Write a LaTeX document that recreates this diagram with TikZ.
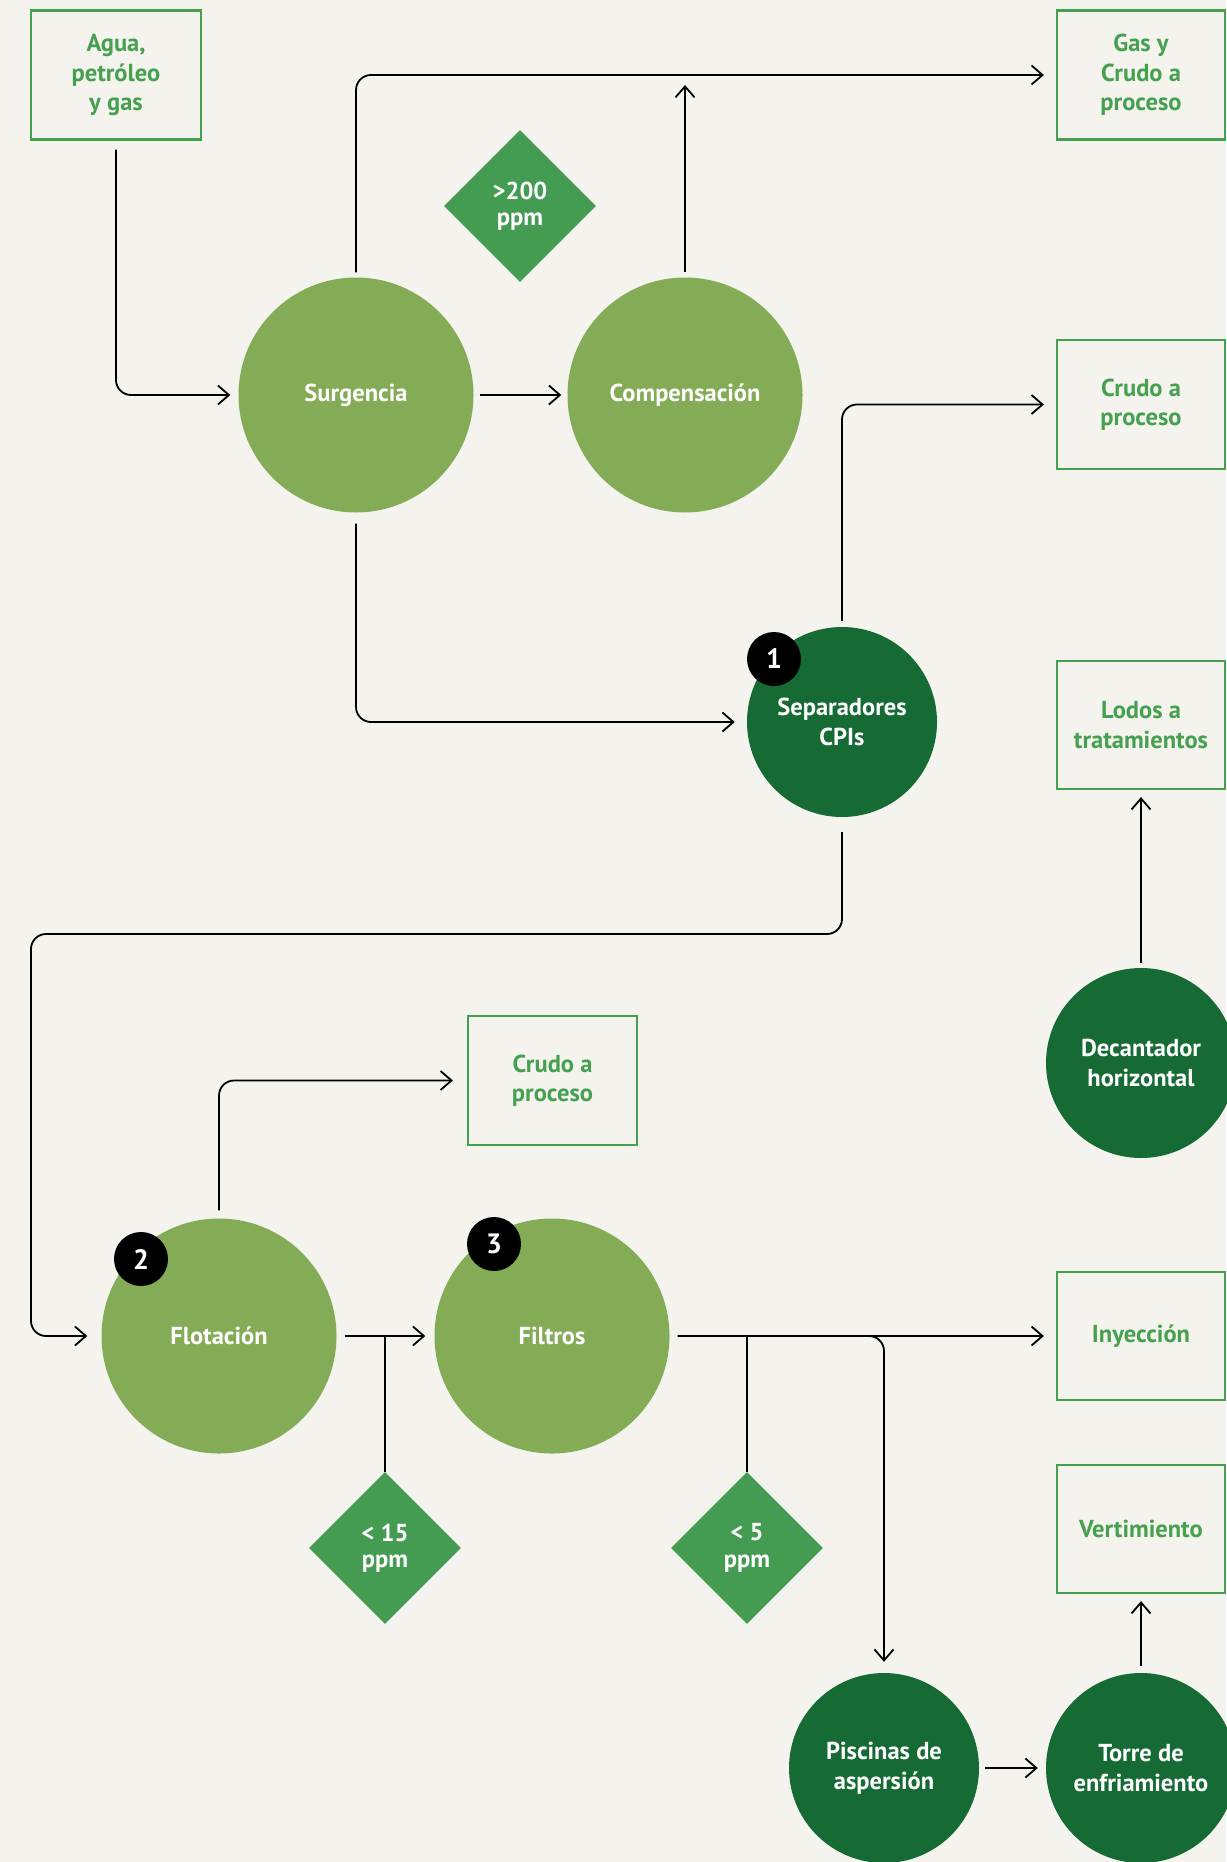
\documentclass[tikz,border=0pt]{standalone}
\usepackage{fontspec}
\setmainfont{PT Sans}
\usetikzlibrary{arrows.meta,shapes.geometric,calc}
\definecolor{bg}{HTML}{F4F3EE}
\definecolor{lightg}{HTML}{84AC57}
\definecolor{darkg}{HTML}{166B35}
\definecolor{diag}{HTML}{439C52}
\definecolor{boxg}{HTML}{45A04F}
\begin{document}
\begin{tikzpicture}[x=1pt,y=-1pt,
  every node/.style={font=\fontsize{24.5}{29.5}\selectfont\bfseries, align=center},
  outbox/.style={rectangle, draw=boxg, line width=2.2pt, text=boxg, minimum width=168pt, minimum height=128pt, inner sep=0pt},
  bigstep/.style={circle, fill=lightg, text=white, minimum size=235pt, inner sep=0pt},
  darkstep/.style={circle, fill=darkg, text=white, minimum size=190pt, inner sep=0pt},
  cond/.style={diamond, fill=diag, text=white, minimum width=152pt, minimum height=152pt, inner sep=0pt, aspect=1, font=\fontsize{24.5}{26.5}\selectfont\bfseries},
  badge/.style={circle, fill=black, text=white, minimum size=54pt, inner sep=0pt, font=\fontsize{28}{30}\selectfont\bfseries},
  flow/.style={draw=black, line width=1.8pt, rounded corners=15pt},
  arr/.style={flow, -{Straight Barb[length=11pt,width=19pt,line width=1.8pt]}},
]
\fill[bg] (0,0) rectangle (1226,1862);
\useasboundingbox (0,0) rectangle (1226,1862);

% boxes
\node[outbox, minimum width=170pt, minimum height=129pt] (agua) at (116,75) {Agua,\\petróleo\\y gas};
\node[outbox, minimum height=129pt] (gas) at (1141,75) {Gas y\\Crudo a\\proceso};
\node[outbox, minimum height=129pt] (crudo1) at (1141,404.5) {Crudo a\\proceso};
\node[outbox] (lodos) at (1141,725) {Lodos a\\tratamientos};
\node[outbox, minimum width=169pt, minimum height=129pt] (crudo2) at (552.5,1080.5) {Crudo a\\proceso};
\node[outbox] (iny) at (1141,1336) {Inyección};
\node[outbox] (vert) at (1141,1529) {Vertimiento};

% process circles
\node[bigstep] (surg) at (356,395) {Surgencia};
\node[bigstep] (comp) at (685,395) {Compensación};
\node[darkstep] (sep) at (842,722) {Separadores\\CPIs};
\node[darkstep] (dec) at (1141,1063) {Decantador\\horizontal};
\node[bigstep] (flot) at (219,1336) {Flotación};
\node[bigstep] (filt) at (552,1336) {Filtros};
\node[darkstep] (pisc) at (884,1768) {Piscinas de\\aspersión};
\node[darkstep] (torre) at (1141,1768) {Torre de\\enfriamiento};

% conditions
\node[cond] (d200) at (520,206) {>200\\ppm};
\node[cond] (d15) at (385,1548) {< 15\\ppm};
\node[cond] (d5) at (747,1548) {< 5\\ppm};

% badges
\node[badge] (b1) at (774,659) {1};
\node[badge] (b2) at (141,1259) {2};
\node[badge] (b3) at (494,1244) {3};

% connectors
\draw[arr, shorten <=9pt, shorten >=8pt] (agua.south) |- (surg.west);
\draw[arr, shorten <=5pt, shorten >=12pt] (surg.north) |- (gas.west);
\draw[arr, shorten <=6pt, shorten >=6pt] (surg.east) -- (comp.west);
\draw[arr, shorten <=5pt, shorten >=10pt] (comp.north) -- (comp.north |- gas.west);
\draw[arr, shorten <=11pt, shorten >=12pt] (surg.south) |- (sep.west);
\draw[arr, shorten <=6pt, shorten >=12pt] (sep.north) |- (crudo1.west);
\coordinate (loop) at (31,934);
\draw[arr, shorten <=15pt, shorten >=14pt] (sep.south) |- (loop) |- (flot.west);
\draw[arr, shorten <=8pt, shorten >=14pt] (flot.north) |- (crudo2.west);
\draw[arr, shorten <=8pt, shorten >=9pt] (flot.east) -- (filt.west);
\draw[flow] (d15.north) -- (d15.north |- flot.east);
\draw[arr, shorten <=8pt, shorten >=12pt] (filt.east) -- (iny.west);
\draw[flow] (d5.north) -- (d5.north |- filt.east);
\draw[arr, shorten <=8pt, shorten >=11pt] (filt.east) -| (pisc.north);
\draw[arr, shorten <=6pt, shorten >=8pt] (pisc.east) -- (torre.west);
\draw[arr, shorten <=7pt, shorten >=7pt] (torre.north) -- (vert.south);
\draw[arr, shorten <=5pt, shorten >=7pt] (dec.north) -- (lodos.south);
\end{tikzpicture}
\end{document}
